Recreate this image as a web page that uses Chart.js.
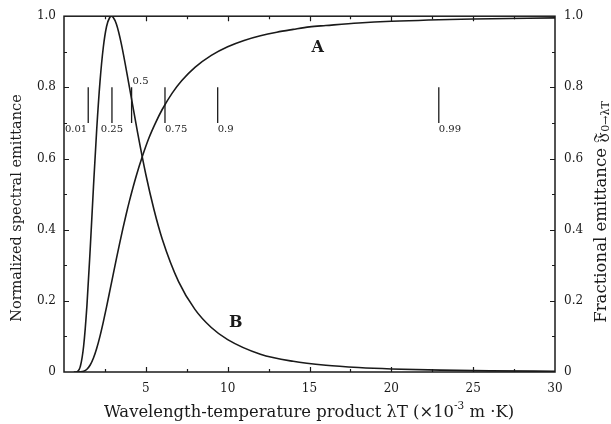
<!DOCTYPE html>
<html>
<head>
<meta charset="utf-8">
<script src="https://cdn.jsdelivr.net/npm/chart.js@4"></script>
<style>
  html, body { margin: 0; padding: 0; background: #fff; }
  #wrap { width: 611px; height: 424px; }
</style>
</head>
<body>
<div id="wrap"><canvas id="emitChart" width="611" height="424"></canvas></div>
<script>
// curve B: normalized spectral emittance vs lambda*T (x10^-3 m K)
const planckX = [0.6, 0.8, 1.0, 1.2, 1.4, 1.6, 1.8, 2.0, 2.2, 2.4, 2.6, 2.8, 2.9, 3.0, 3.2, 3.5, 4.0, 4.5, 5.0, 5.5, 6.0, 7.0, 8.0, 9.0, 10, 12, 14, 16, 18, 20, 23, 26, 30];
const planckY = [0.000, 0.001, 0.016, 0.073, 0.186, 0.345, 0.520, 0.683, 0.816, 0.912, 0.971, 0.997, 1.000, 0.997, 0.978, 0.923, 0.800, 0.672, 0.555, 0.456, 0.374, 0.254, 0.176, 0.125, 0.091, 0.050, 0.030, 0.019, 0.0126, 0.0086, 0.0052, 0.0033, 0.0020];

// curve A: fractional emittance F(0 -> lambda*T)
const fracX = [0.8, 1.0, 1.2, 1.4, 1.6, 1.8, 2.0, 2.2, 2.4, 2.6, 2.8, 3.0, 3.2, 3.4, 3.6, 3.8, 4.0, 4.4, 4.8, 5.2, 5.6, 6.0, 6.6, 7.2, 8.0, 9.0, 10, 11, 12, 13, 14, 15, 16, 18, 20, 25, 30];
const fracY = [0.000, 0.0003, 0.0021, 0.0078, 0.0197, 0.0393, 0.0667, 0.1009, 0.1403, 0.1831, 0.2279, 0.2732, 0.3181, 0.3617, 0.4036, 0.4434, 0.4809, 0.5488, 0.6076, 0.6590, 0.7010, 0.7378, 0.7832, 0.8192, 0.8563, 0.8900, 0.9142, 0.9319, 0.9451, 0.9551, 0.9629, 0.9700, 0.9738, 0.9809, 0.9856, 0.9922, 0.9953];

// little vertical markers where F reaches the given fraction
const markerX = [1.48, 2.93, 4.13, 6.17, 9.39, 22.9];
const markerLabels = ['0.01', '0.25', '0.5', '0.75', '0.9', '0.99'];
const markerLow = 0.70;
const markerHigh = 0.80;

const xTicks = [5, 10, 15, 20, 25, 30];
const yTicks = [0, 0.2, 0.4, 0.6, 0.8, 1.0];

const serif = '"DejaVu Serif", "Liberation Serif", serif';
const ink = '#1a1a1a';

const toPoints = (xs, ys) => xs.map((x, i) => ({ x: x, y: ys[i] }));

const markerPoints = markerX.flatMap(x => [
    { x: x, y: markerLow }, { x: x, y: markerHigh }, { x: x, y: null }
]);

// inward ticks, frame, titles and text labels
const decorations = {
    id: 'decorations',
    afterDraw(chart) {
        const ctx = chart.ctx;
        const area = chart.chartArea;
        const xs = chart.scales.x;
        const ys = chart.scales.y;
        ctx.save();
        ctx.strokeStyle = ink;
        ctx.lineWidth = 1.5;
        ctx.strokeRect(area.left, area.top, area.right - area.left, area.bottom - area.top);

        ctx.lineWidth = 1.2;
        for (let v = 2.5; v < 30; v += 2.5) {
            const px = Math.round(xs.getPixelForValue(v)) + 0.5;
            const len = (v % 5 === 0) ? 5 : 3;
            ctx.beginPath();
            ctx.moveTo(px, area.bottom); ctx.lineTo(px, area.bottom - len);
            ctx.moveTo(px, area.top); ctx.lineTo(px, area.top + len);
            ctx.stroke();
        }
        for (let i = 1; i < 10; i++) {
            const py = Math.round(ys.getPixelForValue(i / 10)) + 0.5;
            const len = (i % 2 === 0) ? 5 : 3;
            ctx.beginPath();
            ctx.moveTo(area.left, py); ctx.lineTo(area.left + len, py);
            ctx.moveTo(area.right, py); ctx.lineTo(area.right - len, py);
            ctx.stroke();
        }

        // marker labels
        ctx.fillStyle = ink;
        ctx.font = '10px ' + serif;
        ctx.textBaseline = 'top';
        markerX.forEach((x, i) => {
            const px = xs.getPixelForValue(x);
            const lab = markerLabels[i];
            if (lab === '0.5') {
                ctx.textAlign = 'left';
                ctx.textBaseline = 'bottom';
                ctx.fillText(lab, px + 1, ys.getPixelForValue(markerHigh) - 1);
                ctx.textBaseline = 'top';
            } else {
                ctx.textAlign = lab === '0.01' ? 'right' : (lab === '0.25' ? 'center' : 'left');
                const off = lab === '0.01' ? -1 : 0;
                ctx.fillText(lab, px + off, ys.getPixelForValue(markerLow) + 1);
            }
        });

        // curve names
        ctx.font = 'bold 16px ' + serif;
        ctx.textAlign = 'center';
        ctx.textBaseline = 'middle';
        ctx.fillText('A', xs.getPixelForValue(15.5), ys.getPixelForValue(0.911));
        ctx.fillText('B', xs.getPixelForValue(10.5), ys.getPixelForValue(0.137));

        // left title
        ctx.font = '14.5px ' + serif;
        ctx.save();
        ctx.translate(17, 208);
        ctx.rotate(-Math.PI / 2);
        ctx.fillText('Normalized spectral emittance', 0, 0);
        ctx.restore();

        // right title with fraktur F and subscript
        ctx.save();
        ctx.translate(602, 212);
        ctx.rotate(-Math.PI / 2);
        const main = 'Fractional emittance ';
        const sym = '\u{1D509}';
        const sub = '0\u2192\u03BBT';
        ctx.font = '16.5px ' + serif;
        const wMain = ctx.measureText(main).width;
        const wSym = ctx.measureText(sym).width;
        ctx.font = '11px ' + serif;
        const wSub = ctx.measureText(sub).width;
        let cx = -(wMain + wSym + wSub) / 2;
        ctx.textAlign = 'left';
        ctx.font = '16.5px ' + serif;
        ctx.fillText(main, cx, 0); cx += wMain;
        ctx.fillText(sym, cx, 0); cx += wSym;
        ctx.font = '11px ' + serif;
        ctx.fillText(sub, cx, 4);
        ctx.restore();

        // bottom title with superscript
        const t1 = 'Wavelength-temperature product \u03BBT (\u00D710';
        const t2 = '-3';
        const t3 = ' m \u00B7K)';
        ctx.font = '16.4px ' + serif;
        const w1 = ctx.measureText(t1).width;
        const w3 = ctx.measureText(t3).width;
        ctx.font = '10.5px ' + serif;
        const w2 = ctx.measureText(t2).width;
        let bx = 309 - (w1 + w2 + w3) / 2;
        const by = 413;
        ctx.textAlign = 'left';
        ctx.font = '16.4px ' + serif;
        ctx.fillText(t1, bx, by); bx += w1;
        ctx.font = '10.5px ' + serif;
        ctx.fillText(t2, bx, by - 7); bx += w2;
        ctx.font = '16.4px ' + serif;
        ctx.fillText(t3, bx, by);
        ctx.restore();
    }
};

const ctx = document.getElementById('emitChart').getContext('2d');
new Chart(ctx, {
    type: 'line',
    data: {
        datasets: [
            {
                label: 'B',
                data: toPoints(planckX, planckY),
                borderColor: ink,
                borderWidth: 1.6,
                pointRadius: 0,
                cubicInterpolationMode: 'monotone',
                yAxisID: 'y'
            },
            {
                label: 'A',
                data: toPoints(fracX, fracY),
                borderColor: ink,
                borderWidth: 1.6,
                pointRadius: 0,
                cubicInterpolationMode: 'monotone',
                yAxisID: 'y2'
            },
            {
                label: 'markers',
                data: markerPoints,
                borderColor: ink,
                borderWidth: 1.3,
                pointRadius: 0,
                spanGaps: false,
                yAxisID: 'y'
            }
        ]
    },
    options: {
        responsive: false,
        animation: false,
        events: [],
        layout: { padding: { top: 15, left: 0, right: 0, bottom: 0 } },
        plugins: {
            legend: { display: false },
            tooltip: { enabled: false }
        },
        scales: {
            x: {
                type: 'linear',
                min: 0,
                max: 30,
                grid: { display: false, drawTicks: false },
                border: { display: false },
                afterFit: s => { s.height = 52; },
                afterBuildTicks: s => { s.ticks = xTicks.map(v => ({ value: v })); },
                ticks: {
                    padding: 10,
                    color: ink,
                    font: { family: serif, size: 12 },
                    maxRotation: 0
                }
            },
            y: {
                position: 'left',
                min: 0,
                max: 1,
                grid: { display: false, drawTicks: false },
                border: { display: false },
                afterFit: s => { s.width = 64; },
                afterBuildTicks: s => { s.ticks = yTicks.map(v => ({ value: v })); },
                ticks: {
                    padding: 8,
                    color: ink,
                    font: { family: serif, size: 12 },
                    callback: v => v === 0 ? '0' : v.toFixed(1)
                }
            },
            y2: {
                position: 'right',
                min: 0,
                max: 1,
                grid: { display: false, drawTicks: false },
                border: { display: false },
                afterFit: s => { s.width = 56; },
                afterBuildTicks: s => { s.ticks = yTicks.map(v => ({ value: v })); },
                ticks: {
                    padding: 9,
                    color: ink,
                    font: { family: serif, size: 12 },
                    callback: v => v === 0 ? '0' : v.toFixed(1)
                }
            }
        }
    },
    plugins: [decorations]
});
</script>
</body>
</html>
